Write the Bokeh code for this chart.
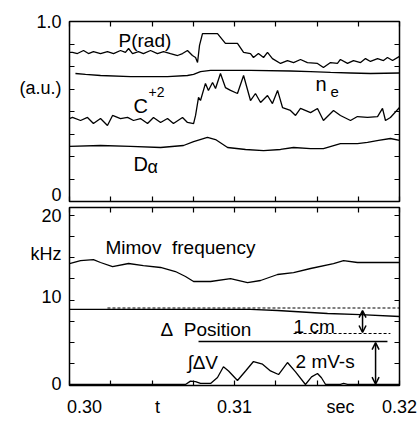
from bokeh.plotting import figure
from bokeh.models import Range1d, FixedTicker, LinearAxis, Label, Arrow, OpenHead
from bokeh.layouts import column
from bokeh.embed import file_html
from bokeh.resources import INLINE

FONT = "Liberation Sans"
NB = "\u00a0"

# ---------------- data ----------------
# top panel (a.u.)
prad_t = [0.30000, 0.30018, 0.30048, 0.30085, 0.30115, 0.30145, 0.30188, 0.30230, 0.30267, 0.30309,
          0.30339, 0.30358, 0.30382, 0.30418, 0.30448, 0.30491, 0.30533, 0.30570, 0.30612, 0.30655,
          0.30685, 0.30715, 0.30745, 0.30764, 0.30776, 0.30788, 0.30806, 0.30897, 0.30945, 0.31018,
          0.31055, 0.31097, 0.31115, 0.31145, 0.31176, 0.31200, 0.31230, 0.31279, 0.31321, 0.31358,
          0.31400, 0.31442, 0.31503, 0.31539, 0.31582, 0.31624, 0.31642, 0.31685, 0.31721, 0.31764,
          0.31794, 0.31824, 0.31867, 0.31903, 0.31927, 0.31958, 0.32000]
prad_v = [0.828, 0.828, 0.822, 0.839, 0.822, 0.833, 0.822, 0.833, 0.822, 0.839,
          0.828, 0.850, 0.822, 0.833, 0.822, 0.839, 0.822, 0.833, 0.822, 0.811,
          0.822, 0.839, 0.811, 0.800, 0.772, 0.867, 0.933, 0.933, 0.878, 0.878,
          0.828, 0.822, 0.800, 0.822, 0.800, 0.828, 0.794, 0.767, 0.783, 0.772,
          0.789, 0.772, 0.767, 0.744, 0.772, 0.767, 0.789, 0.767, 0.783, 0.772,
          0.794, 0.778, 0.794, 0.783, 0.800, 0.783, 0.806]

ne_t = [0.30036, 0.30097, 0.30188, 0.30370, 0.30594, 0.30715, 0.30752, 0.30794, 0.30855, 0.31097,
        0.31339, 0.31461, 0.31582, 0.31703, 0.31824, 0.32000]
ne_v = [0.711, 0.706, 0.700, 0.694, 0.694, 0.700, 0.706, 0.722, 0.728, 0.728,
        0.725, 0.722, 0.717, 0.714, 0.711, 0.714]

c2_t = [0.30000, 0.30018, 0.30067, 0.30109, 0.30145, 0.30188, 0.30230, 0.30261, 0.30309, 0.30352,
        0.30388, 0.30430, 0.30473, 0.30509, 0.30552, 0.30594, 0.30630, 0.30685, 0.30715, 0.30752,
        0.30764, 0.30782, 0.30794, 0.30824, 0.30842, 0.30867, 0.30885, 0.30915, 0.30945, 0.30976,
        0.31018, 0.31055, 0.31097, 0.31127, 0.31158, 0.31200, 0.31230, 0.31261, 0.31291, 0.31339,
        0.31370, 0.31400, 0.31461, 0.31503, 0.31539, 0.31600, 0.31642, 0.31703, 0.31745, 0.31806,
        0.31867, 0.31897, 0.31915, 0.31945, 0.32000]
c2_v = [0.461, 0.467, 0.450, 0.467, 0.433, 0.461, 0.422, 0.478, 0.461, 0.467,
        0.450, 0.461, 0.433, 0.467, 0.439, 0.461, 0.433, 0.467, 0.439, 0.433,
        0.478, 0.578, 0.561, 0.656, 0.617, 0.661, 0.628, 0.711, 0.633, 0.617,
        0.600, 0.700, 0.561, 0.600, 0.550, 0.589, 0.544, 0.617, 0.522, 0.506,
        0.478, 0.517, 0.494, 0.517, 0.450, 0.506, 0.478, 0.450, 0.472, 0.467,
        0.472, 0.517, 0.450, 0.467, 0.522]

da_t = [0.30000, 0.30188, 0.30370, 0.30552, 0.30691, 0.30752, 0.30836, 0.30885, 0.30958, 0.31067,
        0.31176, 0.31279, 0.31358, 0.31461, 0.31539, 0.31642, 0.31745, 0.31806, 0.31873, 0.31945,
        0.32000]
da_v = [0.306, 0.311, 0.306, 0.300, 0.311, 0.333, 0.356, 0.344, 0.300, 0.289,
        0.283, 0.289, 0.300, 0.294, 0.294, 0.322, 0.322, 0.328, 0.339, 0.350,
        0.339]

# bottom panel (kHz and scaled signals)
mir_t = [0.30000, 0.30067, 0.30145, 0.30188, 0.30261, 0.30358, 0.30448, 0.30552, 0.30642, 0.30703,
         0.30752, 0.30855, 0.30976, 0.31079, 0.31158, 0.31261, 0.31358, 0.31461, 0.31600, 0.31661,
         0.31745, 0.32000]
mir_v = [14.32, 14.67, 14.79, 14.44, 13.96, 14.32, 14.08, 13.85, 13.37, 12.78,
         12.19, 12.19, 12.54, 12.07, 12.31, 13.02, 13.25, 13.73, 14.32, 14.67,
         14.44, 14.44]

pos_t = [0.30000, 0.31097, 0.31261, 0.31461, 0.31564, 0.31764, 0.32000]
pos_v = [8.88, 8.88, 8.76, 8.52, 8.40, 8.28, 8.05]

dv_t = [0.30000, 0.30703, 0.30733, 0.30764, 0.30794, 0.30855, 0.30897, 0.30933, 0.30964, 0.31018,
        0.31067, 0.31115, 0.31170, 0.31218, 0.31267, 0.31321, 0.31370, 0.31430, 0.31467, 0.31503,
        0.31527, 0.31552, 0.31642, 0.31661, 0.31685, 0.32000]
dv_v = [0.0, 0.0, 0.40, 0.35, 0.12, 0.12, 0.83, 2.10, 1.60, 0.47,
        1.60, 2.72, 2.40, 1.60, 1.18, 2.60, 1.50, 0.0, 0.90, 1.30,
        0.80, 0.0, 0.0, 0.12, 0.0, 0.0]

# scale references
pos_ref_t = [0.30230, 0.32000]      # dashed reference of position
pos_ref_v = 9.05
cm_ref_t = [0.31358, 0.31945]       # dashed 1 cm reference
cm_ref_v = 6.04
mvs_ref_t = [0.30782, 0.31927]      # solid 2 mV-s reference
mvs_ref_v = 5.09

# ticks and tick labels
x_range = (0.30, 0.32)
x_tick_marks = [0.30, 0.3025, 0.305, 0.3075, 0.31, 0.3125, 0.315, 0.3175, 0.32]
x_label_pos = [0.30, 0.30533, 0.31, 0.31642, 0.32]
x_label_text = [NB * 6 + "0.30", "t", "0.31", "sec", "0.32"]
top_y_marks = [0.0, 0.125, 0.25, 0.375, 0.5, 0.625, 0.75, 0.875, 1.0]
top_y_label_pos = [0.0, 0.628, 1.0]
top_y_label_text = ["0", "(a.u.)", "1.0"]
bot_y_marks = [0.0, 2.5, 5.0, 7.5, 10.0, 12.5, 15.0, 17.5, 20.0]
bot_y_label_pos = [0.0, 10.3, 15.5, 20.0]
bot_y_label_text = ["0", "10", "kHz", "20"]


def tick_axis(ax, label_pos, marks):
    ax.ticker = FixedTicker(ticks=label_pos, minor_ticks=marks)
    ax.major_tick_in = 0
    ax.major_tick_out = 0
    ax.minor_tick_in = 5
    ax.minor_tick_out = 0
    ax.axis_line_color = "black"
    ax.minor_tick_line_color = "black"
    ax.minor_tick_line_width = 1.2


def frame_style(p, ymarks, ylab_pos, ylab_text, xlab_pos=None, xlab_text=None):
    p.outline_line_color = "black"
    p.outline_line_width = 1.5
    p.grid.visible = False
    p.background_fill_color = "white"
    p.border_fill_color = "white"
    xax = p.below[0]
    yax = p.left[0]
    right = LinearAxis()
    above = LinearAxis()
    p.add_layout(right, "right")
    p.add_layout(above, "above")
    tick_axis(right, [], ymarks)
    tick_axis(above, [], x_tick_marks)
    tick_axis(yax, ylab_pos, ymarks)
    yax.major_label_overrides = {v: s for v, s in zip(ylab_pos, ylab_text)}
    yax.major_label_text_font_size = "18px"
    yax.major_label_text_font = FONT
    yax.major_label_text_color = "black"
    yax.major_label_standoff = 8
    if xlab_pos is None:
        tick_axis(xax, [], x_tick_marks)
    else:
        tick_axis(xax, xlab_pos, x_tick_marks)
        xax.major_label_overrides = {v: s for v, s in zip(xlab_pos, xlab_text)}
        xax.major_label_text_font_size = "18px"
        xax.major_label_text_font = FONT
        xax.major_label_text_color = "black"
        xax.major_label_standoff = 11


# ---------------- top panel ----------------
p1 = figure(width=419, height=204, x_range=Range1d(*x_range), y_range=Range1d(0.0, 1.0),
            output_backend="svg", toolbar_location=None,
            min_border_left=69, min_border_right=20, min_border_top=21, min_border_bottom=3)
frame_style(p1, top_y_marks, top_y_label_pos, top_y_label_text)
lw = 1.3
p1.line(prad_t, prad_v, line_color="black", line_width=lw)
p1.line(ne_t, ne_v, line_color="black", line_width=lw)
p1.line(c2_t, c2_v, line_color="black", line_width=lw)
p1.line(da_t, da_v, line_color="black", line_width=lw)

top_labels = [
    ("P(rad)", 0.30297, 0.894, "19px"),
    ("C", 0.30388, 0.528, "20px"),
    ("+2", 0.30479, 0.611, "14px"),
    ("D", 0.30388, 0.211, "20px"),
    ("α", 0.30473, 0.192, "18px"),
    ("n", 0.31491, 0.655, "20px"),
    ("e", 0.31582, 0.611, "15px"),
]
for txt, tx, ty, fs in top_labels:
    p1.add_layout(Label(x=tx, y=ty, text=txt, text_font=FONT, text_font_size=fs,
                        text_baseline="alphabetic", text_align="left", text_color="black"))

# ---------------- bottom panel ----------------
p2 = figure(width=419, height=218, x_range=Range1d(*x_range), y_range=Range1d(-0.12, 20.95),
            output_backend="svg", toolbar_location=None,
            min_border_left=69, min_border_right=20, min_border_top=3, min_border_bottom=37)
frame_style(p2, bot_y_marks, bot_y_label_pos, bot_y_label_text, x_label_pos, x_label_text)
p2.line(mir_t, mir_v, line_color="black", line_width=lw)
p2.line(pos_t, pos_v, line_color="black", line_width=lw)
p2.line(dv_t, dv_v, line_color="black", line_width=lw)
p2.line(pos_ref_t, [pos_ref_v, pos_ref_v], line_color="black", line_width=1.1, line_dash="3 2")
p2.line(cm_ref_t, [cm_ref_v, cm_ref_v], line_color="black", line_width=1.1, line_dash="3 2")
p2.line(mvs_ref_t, [mvs_ref_v, mvs_ref_v], line_color="black", line_width=1.3)

p2.add_layout(Arrow(x_start=0.31776, y_start=8.75, x_end=0.31776, y_end=6.15,
                    start=OpenHead(size=7, line_width=1.5), end=OpenHead(size=7, line_width=1.5),
                    line_width=1.5))
p2.add_layout(Arrow(x_start=0.31855, y_start=4.95, x_end=0.31855, y_end=0.05,
                    start=OpenHead(size=7, line_width=1.5), end=OpenHead(size=7, line_width=1.5),
                    line_width=1.5))

bot_labels = [
    ("Mimov" + NB + " frequency", 0.30218, 16.21, "19px"),
    ("Δ" + NB + " Position", 0.30552, 6.51, "19px"),
    ("1 cm", 0.31358, 6.86, "19px"),
    ("∫ΔV", 0.30715, 2.60, "19px"),
    ("2 mV-s", 0.31370, 2.72, "19px"),
]
for txt, tx, ty, fs in bot_labels:
    p2.add_layout(Label(x=tx, y=ty, text=txt, text_font=FONT, text_font_size=fs,
                        text_baseline="alphabetic", text_align="left", text_color="black"))

layout = column(p1, p2, spacing=0)
open("out.html", "w").write(file_html(layout, INLINE))
